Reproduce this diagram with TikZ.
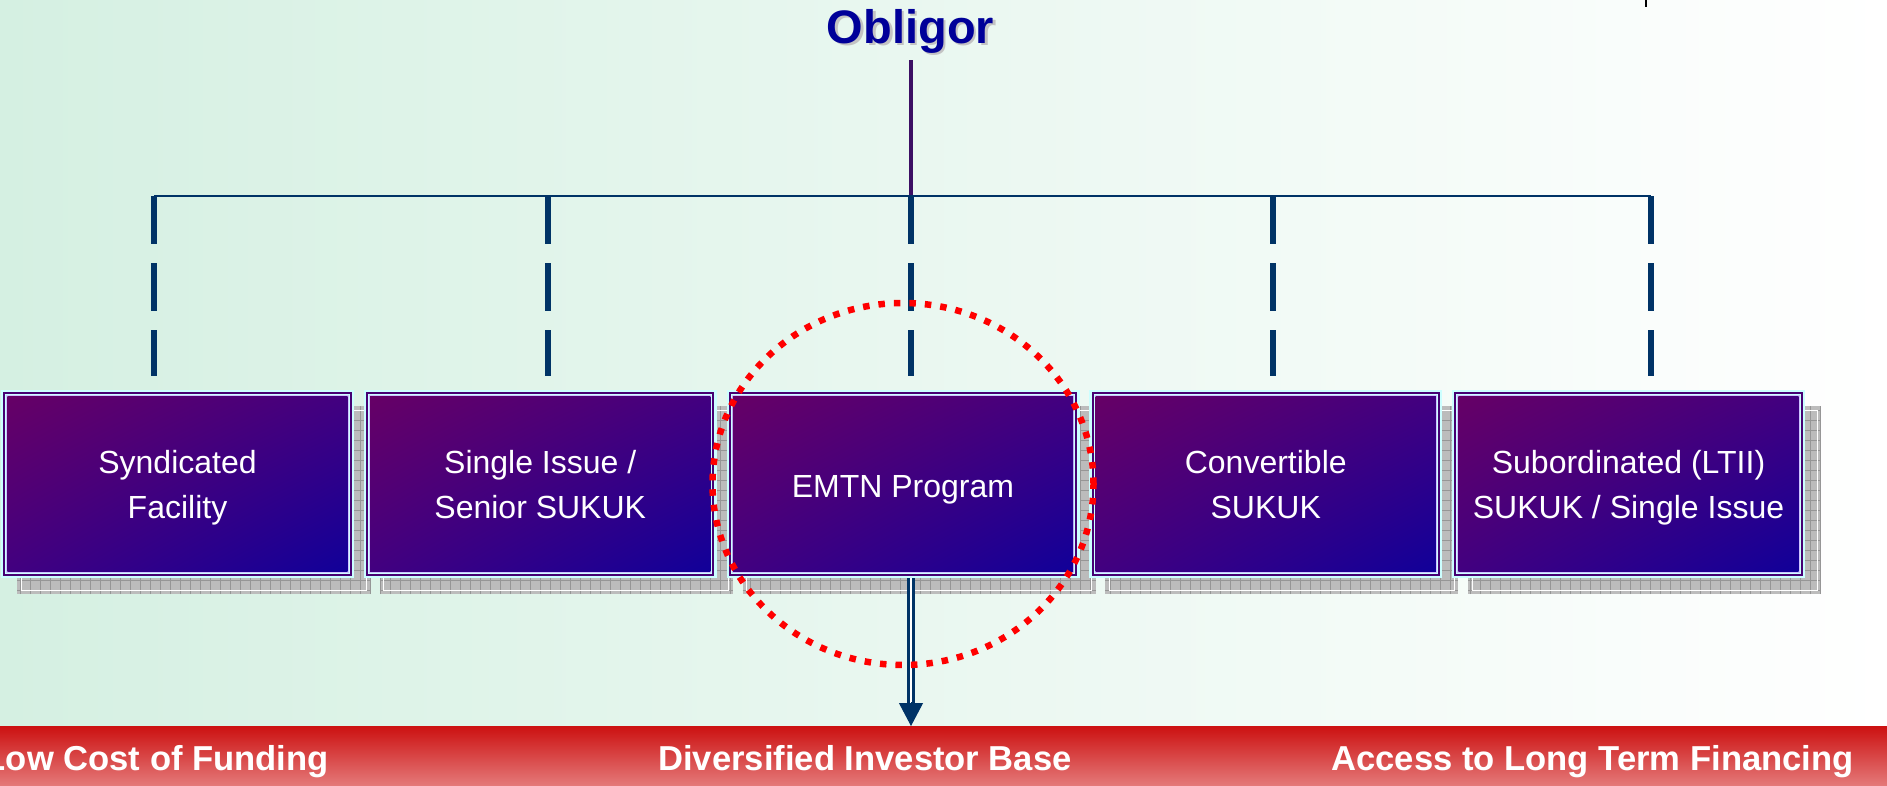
\documentclass[tikz,border=0pt]{standalone}
\usepackage{fontspec}
\setmainfont{Liberation Sans}
\usepackage{tikz}
\usetikzlibrary{arrows.meta, shadings}

\definecolor{mint}{RGB}{213,240,226}
\definecolor{navy}{RGB}{0,51,102}
\definecolor{oblblue}{RGB}{0,0,153}
\definecolor{oblgray}{RGB}{195,195,195}
\definecolor{stemcol}{RGB}{60,15,100}
\definecolor{boxcyan}{RGB}{204,255,255}
\definecolor{boxrim}{RGB}{70,0,115}
\definecolor{boxlite}{RGB}{205,195,255}
\definecolor{boxtl}{RGB}{102,0,102}
\definecolor{boxmid}{RGB}{66,0,128}
\definecolor{boxbr}{RGB}{17,0,153}
\definecolor{shadowgray}{RGB}{188,188,188}
\definecolor{gridgray}{RGB}{150,150,150}
\definecolor{bandtop}{RGB}{204,17,17}
\definecolor{bandmid}{RGB}{216,80,80}
\definecolor{bandbot}{RGB}{228,120,120}
\definecolor{focusred}{RGB}{255,0,0}

\tikzset{
  finbox/.style={fill=boxcyan, minimum width=353pt, minimum height=188pt,
    inner sep=0pt, outer sep=0pt, align=center, text=white, text depth=0pt,
    font=\fontsize{32}{45}\selectfont,
    path picture={
      \draw[boxrim, line width=2pt]
        ([shift={(3.3pt,-3.3pt)}]path picture bounding box.north west) rectangle
        ([shift={(-3.3pt,3.3pt)}]path picture bounding box.south east);
      \draw[boxlite, line width=1pt]
        ([shift={(5.8pt,-5.8pt)}]path picture bounding box.north west) rectangle
        ([shift={(-5.8pt,5.8pt)}]path picture bounding box.south east);
      \shade[upper left=boxtl, upper right=boxmid, lower left=boxmid, lower right=boxbr]
        ([shift={(6.3pt,-6.3pt)}]path picture bounding box.north west) rectangle
        ([shift={(-6.3pt,6.3pt)}]path picture bounding box.south east);
    }},
  bandtext/.style={text=white, inner sep=0pt, font=\fontsize{34.6}{40}\bfseries},
  feeder/.style={navy, line width=5.3pt, dash pattern=on 48pt off 19pt, shorten >=14pt},
  pipe/.style={navy, line width=2.6pt, double=white, double distance=2.4pt},
  focus/.style={focusred, line width=6.5pt, dash pattern=on 6.5pt off 9pt}
}

\begin{document}
\begin{tikzpicture}[x=1pt, y=-1pt]
    \useasboundingbox (0,0) rectangle (1887,785);
    \shade[left color=mint, right color=white] (0,0) rectangle (1887,785);
    \draw[black, line width=1.5pt] (1646,0) -- (1646,7);

    \foreach \i in {0,...,4} {
        \pgfmathsetmacro\sx{17+362.75*\i}
        \fill[shadowgray] (\sx,406) rectangle (\sx+353,594);
        \draw[gridgray, line width=0.5pt, step=10pt] (\sx,406) grid (\sx+353,594);
        \draw[white, line width=0.8pt] (\sx+4,410) rectangle (\sx+349,590);
    }

    \node[finbox] at (177.5, 484) (synd) {Syndicated\\Facility};
    \node[finbox] at (540.25, 484) (senior) {Single Issue /\\Senior SUKUK};
    \node[finbox, text height=27pt] at (903, 484) (emtn) {EMTN Program};
    \node[finbox] at (1265.75, 484) (conv) {Convertible\\SUKUK};
    \node[finbox] at (1628.5, 484) (subord) {Subordinated (LTII)\\SUKUK / Single Issue};

    \node[anchor=base, inner sep=0pt, text=oblgray, font=\fontsize{47}{56}\bfseries]
        at (913, 45.5) (oblshade) {Obligor};
    \node[anchor=base, inner sep=0pt, text=oblblue, font=\fontsize{47}{56}\bfseries]
        at (910.5, 43) (obl) {Obligor};

    \coordinate (busL) at (154, 196);
    \coordinate (busM) at (910.5, 196);
    \coordinate (busR) at (1651, 196);
    \draw[stemcol, line width=4pt, shorten <=7pt] (obl.south) -- (busM);
    \draw[navy, line width=2.2pt] (busL) -- (busR);

    \foreach \b/\x in {synd/154, senior/548, emtn/911, conv/1273, subord/1651} {
        \coordinate (top\b) at (\x, 196);
        \draw[feeder] (top\b) -- (top\b |- \b.north);
    }

    \node[anchor=north west, minimum width=1887pt, minimum height=59pt, inner sep=0pt,
        outer sep=0pt, top color=bandtop, middle color=bandmid, bottom color=bandbot]
        at (0, 726) (band) {};
    \node[bandtext, anchor=base east] at (329, 770) (cost) {Low Cost of Funding};
    \node[bandtext, anchor=base] at (865, 770) (investor) {Diversified Investor Base};
    \node[bandtext, anchor=base] at (1592.5, 770) (access) {Access to Long Term Financing};

    \coordinate (drop) at ([xshift=8pt]emtn.south);
    \draw[pipe] (drop) -- ([yshift=22pt]drop |- band.north);
    \draw[navy, line width=1pt, -{Triangle[width=24pt, length=23pt]}]
        ([yshift=24pt]drop |- band.north) -- (drop |- band.north);

    \draw[focus] (emtn.center) ellipse [x radius=190.5pt, y radius=181pt];
\end{tikzpicture}
\end{document}
